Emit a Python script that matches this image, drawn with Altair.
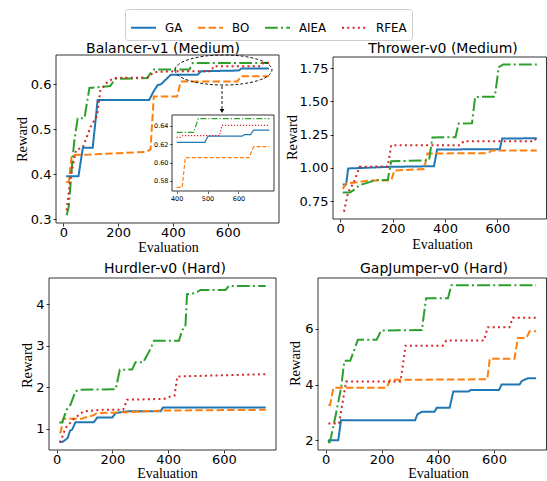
import altair as alt
import pandas as pd

W, H = 547, 481
SANS = "DejaVu Sans"
SERIF = "Liberation Serif"

METHODS = ["GA", "BO", "AIEA", "RFEA"]
COLORS = ["#1f77b4", "#ff7f0e", "#2ca02c", "#d62728"]
DASHES = [[1, 0], [7.4, 3.2], [12.8, 3.2, 2, 3.2], [2, 3.3]]

# ---------------- Balancer-v1 (Medium) ----------------
BAL_GA_X = [10, 55, 71, 107, 125, 313, 330, 344, 356, 392, 490, 502, 640, 650, 750]
BAL_GA_Y = [0.396, 0.396, 0.459, 0.459, 0.565, 0.565, 0.585, 0.598, 0.600, 0.621, 0.621, 0.629, 0.6305, 0.635, 0.635]
BAL_BO_X = [10, 20, 30, 100, 200, 300, 318, 330, 415, 428, 635, 648, 750]
BAL_BO_Y = [0.383, 0.383, 0.443, 0.444, 0.447, 0.450, 0.455, 0.573, 0.573, 0.606, 0.606, 0.618, 0.618]
BAL_AIEA_X = [12, 20, 34, 40, 52, 77, 95, 171, 189, 307, 318, 331, 460, 472, 750]
BAL_AIEA_Y = [0.309, 0.33, 0.439, 0.475, 0.524, 0.525, 0.592, 0.596, 0.612, 0.614, 0.625, 0.633, 0.633, 0.647, 0.647]
BAL_RFEA_X = [12, 25, 46, 71, 99, 123, 135, 162, 186, 307, 331, 410, 540, 548, 720, 730, 750]
BAL_RFEA_Y = [0.32, 0.39, 0.454, 0.46, 0.505, 0.53, 0.587, 0.606, 0.614, 0.615, 0.627, 0.629, 0.629, 0.640, 0.640, 0.648, 0.648]

# inset (zoom of Balancer, evaluations 400-700)
IN_GA_X = [400, 491, 502, 612, 620, 639, 649, 700]
IN_GA_Y = [0.622, 0.622, 0.629, 0.629, 0.6305, 0.6305, 0.6355, 0.6355]
IN_BO_X = [400, 418, 428, 634, 649, 700]
IN_BO_Y = [0.573, 0.573, 0.6055, 0.6055, 0.6175, 0.6175]
IN_AIEA_X = [400, 455, 470, 700]
IN_AIEA_Y = [0.633, 0.633, 0.648, 0.648]
IN_RFEA_X = [400, 413, 420, 539, 547, 700]
IN_RFEA_Y = [0.6276, 0.6276, 0.6295, 0.6295, 0.6407, 0.6407]

# ---------------- Thrower-v0 (Medium) ----------------
THR_GA_X = [10, 23, 31, 188, 358, 370, 609, 618, 750]
THR_GA_Y = [0.875, 0.875, 0.995, 1.007, 1.012, 1.1375, 1.14, 1.22, 1.222]
THR_BO_X = [10, 23, 60, 113, 195, 207, 320, 333, 565, 578, 750]
THR_BO_Y = [0.84, 0.8825, 0.89, 0.905, 0.905, 0.98, 0.99, 1.1075, 1.11, 1.13, 1.13]
THR_AIEA_X = [10, 38, 50, 75, 138, 182, 195, 339, 352, 440, 452, 503, 515, 590, 605, 622, 750]
THR_AIEA_Y = [0.815, 0.815, 0.83, 0.87, 0.9075, 0.91, 1.05, 1.055, 1.2275, 1.23, 1.3325, 1.335, 1.5325, 1.535, 1.7575, 1.7775, 1.7775]
THR_RFEA_X = [15, 31, 50, 75, 182, 195, 459, 471, 741, 750]
THR_RFEA_Y = [0.67, 0.82, 0.88, 1.0075, 1.01, 1.17, 1.17, 1.2, 1.2, 1.2325]

# ---------------- Hurdler-v0 (Hard) ----------------
HUR_GA_X = [10, 20, 35, 41, 48, 56, 68, 134, 146, 200, 212, 253, 373, 382, 750]
HUR_GA_Y = [0.68, 0.68, 0.75, 0.79, 0.95, 0.98, 1.16, 1.16, 1.27, 1.27, 1.38, 1.42, 1.42, 1.513, 1.513]
HUR_BO_X = [10, 15, 24, 90, 100, 130, 145, 250, 380, 750]
HUR_BO_Y = [0.91, 0.92, 1.24, 1.24, 1.27, 1.32, 1.38, 1.40, 1.44, 1.457]
HUR_AIEA_X = [10, 20, 36, 50, 68, 80, 212, 227, 271, 283, 311, 335, 349, 439, 451, 462, 468, 498, 516, 606, 618, 750]
HUR_AIEA_Y = [1.15, 1.15, 1.457, 1.58, 1.90, 1.94, 1.95, 2.42, 2.43, 2.60, 2.60, 2.90, 3.117, 3.12, 3.38, 3.45, 4.24, 4.27, 4.34, 4.34, 4.44, 4.44]
HUR_RFEA_X = [10, 15, 32, 62, 96, 158, 239, 253, 385, 409, 423, 433, 750]
HUR_RFEA_Y = [0.695, 0.70, 1.016, 1.24, 1.417, 1.457, 1.46, 1.70, 1.72, 1.78, 1.80, 2.26, 2.315]

# ---------------- GapJumper-v0 (Hard) ----------------
GAP_GA_X = [10, 12, 45, 55, 319, 327, 343, 388, 396, 442, 455, 509, 518, 618, 627, 691, 699, 721, 750]
GAP_GA_Y = [1.94, 2.0, 2.0, 2.72, 2.72, 2.93, 3.02, 3.02, 3.17, 3.17, 3.75, 3.75, 3.81, 3.81, 4.0, 4.0, 4.13, 4.23, 4.23]
GAP_BO_X = [10, 16, 28, 218, 230, 576, 585, 673, 685, 715, 727, 750]
GAP_BO_Y = [3.27, 3.27, 3.89, 3.89, 4.17, 4.19, 4.93, 4.93, 5.67, 5.67, 5.92, 5.92]
GAP_AIEA_X = [10, 16, 36, 55, 67, 88, 115, 182, 198, 343, 358, 436, 448, 750]
GAP_AIEA_Y = [1.90, 1.95, 2.9, 3.87, 4.86, 4.86, 5.61, 5.61, 5.94, 5.96, 7.1, 7.1, 7.57, 7.57]
GAP_RFEA_X = [10, 48, 73, 267, 285, 418, 430, 564, 578, 655, 667, 750]
GAP_RFEA_Y = [2.6, 2.6, 4.11, 4.11, 5.40, 5.40, 5.58, 5.58, 6.06, 6.06, 6.40, 6.40]

SERIES = {
    "Balancer": {"GA": (BAL_GA_X, BAL_GA_Y), "BO": (BAL_BO_X, BAL_BO_Y),
                 "AIEA": (BAL_AIEA_X, BAL_AIEA_Y), "RFEA": (BAL_RFEA_X, BAL_RFEA_Y)},
    "Thrower": {"GA": (THR_GA_X, THR_GA_Y), "BO": (THR_BO_X, THR_BO_Y),
                "AIEA": (THR_AIEA_X, THR_AIEA_Y), "RFEA": (THR_RFEA_X, THR_RFEA_Y)},
    "Hurdler": {"GA": (HUR_GA_X, HUR_GA_Y), "BO": (HUR_BO_X, HUR_BO_Y),
                "AIEA": (HUR_AIEA_X, HUR_AIEA_Y), "RFEA": (HUR_RFEA_X, HUR_RFEA_Y)},
    "GapJumper": {"GA": (GAP_GA_X, GAP_GA_Y), "BO": (GAP_BO_X, GAP_BO_Y),
                  "AIEA": (GAP_AIEA_X, GAP_AIEA_Y), "RFEA": (GAP_RFEA_X, GAP_RFEA_Y)},
}
INSET = {"GA": (IN_GA_X, IN_GA_Y), "BO": (IN_BO_X, IN_BO_Y),
         "AIEA": (IN_AIEA_X, IN_AIEA_Y), "RFEA": (IN_RFEA_X, IN_RFEA_Y)}

rows = []
for panel, d in SERIES.items():
    for m in METHODS:
        xs, ys = d[m]
        for i, (x, y) in enumerate(zip(xs, ys)):
            rows.append(dict(panel=panel, method=m, evaluation=x, reward=y, idx=i))
df = pd.DataFrame(rows)

irows = []
for m in METHODS:
    xs, ys = INSET[m]
    for i, (x, y) in enumerate(zip(xs, ys)):
        irows.append(dict(method=m, evaluation=x, reward=y, idx=i))
idf = pd.DataFrame(irows)

one = pd.DataFrame({"k": [0]})

PANELS = [
    dict(key="Balancer", title="Balancer-v1 (Medium)", x0=56, x1=279, y0=55, y1=223,
         ydom=[0.292, 0.665], yticks=[0.3, 0.4, 0.5, 0.6], yfmt=".1f",
         tx=163, ty=53, xt=(168, 251), yt=(22, 139)),
    dict(key="Thrower", title="Thrower-v0 (Medium)", x0=333, x1=546.5, y0=57, y1=219,
         ydom=[0.615, 1.833], yticks=[0.75, 1.0, 1.25, 1.5, 1.75], yfmt=".2f",
         tx=443, ty=53, xt=(442, 248), yt=(292, 137)),
    dict(key="Hurdler", title="Hurdler-v0 (Hard)", x0=49, x1=276, y0=278, y1=450,
         ydom=[0.49, 4.63], yticks=[1, 2, 3, 4], yfmt="d",
         tx=165, ty=273, xt=(167, 477.5), yt=(27, 365)),
    dict(key="GapJumper", title="GapJumper-v0 (Hard)", x0=318, x1=546.5, y0=278, y1=450,
         ydom=[1.65, 7.83], yticks=[2, 4, 6], yfmt="d",
         tx=434, ty=273, xt=(438, 477.5), yt=(295, 363)),
]

LEG = alt.Legend(title=None, orient="none", legendX=125, legendY=9, direction="horizontal",
                 symbolType="stroke", symbolSize=625, symbolStrokeWidth=2,
                 labelFont=SANS, labelFontSize=11.8, labelColor="black", labelOffset=8,
                 columnPadding=11, padding=5, fillColor="white", strokeColor="#cccccc",
                 cornerRadius=3)


def text_mark(t, x, y, size, font, angle=0):
    return alt.Chart(pd.DataFrame({"t": [t]})).mark_text(
        font=font, fontSize=size, align="center", baseline="alphabetic",
        angle=angle, color="black").encode(x=alt.value(x), y=alt.value(y), text="t:N")


def frame_mark(x0, x1, y0, y1, fill=None):
    kw = dict(stroke="black", strokeWidth=0.8)
    if fill:
        kw["fill"] = fill
    else:
        kw["fillOpacity"] = 0
    return alt.Chart(one).mark_rect(**kw).encode(
        x=alt.value(x0), x2=alt.value(x1), y=alt.value(y0), y2=alt.value(y1))


def panel_lines(p):
    xaxis = alt.Axis(orient="bottom", offset=p["y1"] - H, values=[0, 200, 400, 600], format="d",
                     grid=False, domain=False, tickSize=3, tickWidth=0.8, tickColor="black",
                     labelFont=SANS, labelFontSize=13, labelColor="black", labelPadding=0,
                     labelFlush=False, labelOverlap=False,
                     title="Evaluation", titleFont=SERIF, titleFontSize=14, titleFontWeight="normal",
                     titleColor="black", titleX=p["xt"][0], titleY=p["xt"][1] - p["y1"],
                     titleAlign="center", titleBaseline="alphabetic", titleAngle=0)
    yaxis = alt.Axis(orient="left", offset=-p["x0"], values=p["yticks"], format=p["yfmt"],
                     grid=False, domain=False, tickSize=3, tickWidth=0.8, tickColor="black",
                     labelFont=SANS, labelFontSize=13, labelColor="black", labelPadding=2,
                     labelFlush=False, labelOverlap=False,
                     title="Reward", titleFont=SERIF, titleFontSize=14.5, titleFontWeight="normal",
                     titleColor="black", titleX=p["yt"][0] - p["x0"], titleY=p["yt"][1],
                     titleAlign="center", titleBaseline="middle", titleAngle=270)
    return alt.Chart(df).transform_filter(alt.datum.panel == p["key"]).mark_line(strokeWidth=2).encode(
        x=alt.X("evaluation:Q", scale=alt.Scale(domain=[-27, 787], range=[p["x0"], p["x1"]], nice=False, zero=False),
                axis=xaxis),
        y=alt.Y("reward:Q", scale=alt.Scale(domain=p["ydom"], range=[p["y1"], p["y0"]], nice=False, zero=False),
                axis=yaxis),
        color=alt.Color("method:N", scale=alt.Scale(domain=METHODS, range=COLORS), legend=LEG),
        strokeDash=alt.StrokeDash("method:N", scale=alt.Scale(domain=METHODS, range=DASHES), legend=LEG),
        order="idx:Q",
    )


# inset geometry (pixels)
IX0, IX1, IY0, IY1 = 172, 274, 115, 191
IN_DASH = {"GA": [1, 0], "BO": [4, 2], "AIEA": [6, 2, 1.2, 2], "RFEA": [1.2, 1.8]}


def inset_lines():
    xaxis = alt.Axis(orient="bottom", offset=IY1 - H, values=[400, 500, 600], format="d",
                     grid=False, domain=False, tickSize=2.5, tickWidth=0.6, tickColor="black",
                     labelFont=SANS, labelFontSize=6.5, labelColor="black", labelPadding=1.5,
                     labelFlush=False, labelOverlap=False, title=None, zindex=1)
    yaxis = alt.Axis(orient="left", offset=-IX0, values=[0.58, 0.60, 0.62, 0.64], format=".2f",
                     grid=False, domain=False, tickSize=2.5, tickWidth=0.6, tickColor="black",
                     labelFont=SANS, labelFontSize=6.5, labelColor="black", labelPadding=1.5,
                     labelFlush=False, labelOverlap=False, title=None, zindex=1)
    layers = []
    for m, c in zip(METHODS, COLORS):
        layers.append(
            alt.Chart(idf).transform_filter(alt.datum.method == m).mark_line(
                strokeWidth=1.2, color=c, strokeDash=IN_DASH[m]).encode(
                x=alt.X("evaluation:Q", scale=alt.Scale(domain=[385, 715], range=[IX0, IX1], nice=False, zero=False),
                        axis=xaxis),
                y=alt.Y("reward:Q", scale=alt.Scale(domain=[0.569, 0.652], range=[IY1, IY0], nice=False, zero=False),
                        axis=yaxis),
                order="idx:Q",
            )
        )
    return alt.layer(*layers)


ELLIPSE = "M-1,0 A1,0.31 0 1,0 1,0 A1,0.31 0 1,0 -1,0 Z"

layers = []
for p in PANELS:
    layers.append(panel_lines(p))
    layers.append(frame_mark(p["x0"], p["x1"], p["y0"], p["y1"]))
    layers.append(text_mark(p["title"], p["tx"], p["ty"], 14, SANS))

# inset and its callout
layers.append(frame_mark(IX0, IX1, IY0, IY1, fill="white"))
layers.append(inset_lines())
layers.append(alt.Chart(one).mark_point(shape=ELLIPSE, size=97 * 97, filled=False, stroke="black",
                                        strokeWidth=0.9, strokeDash=[3, 2], opacity=1).encode(
    x=alt.value(223.5), y=alt.value(70)))
layers.append(alt.Chart(one).mark_rule(stroke="black", strokeWidth=0.9, strokeDash=[3, 2]).encode(
    x=alt.value(222), y=alt.value(86), y2=alt.value(110)))
layers.append(alt.Chart(one).mark_point(shape="triangle-down", filled=True, color="black", size=22,
                                        opacity=1).encode(x=alt.value(222), y=alt.value(111)))

chart = alt.layer(*layers).resolve_scale(x="independent", y="independent").properties(
    width=W, height=H, autosize=alt.AutoSizeParams(type="none"), padding=0,
).configure_view(stroke=None)

chart.save("out.html", embed_options={"renderer": "svg", "actions": False})
